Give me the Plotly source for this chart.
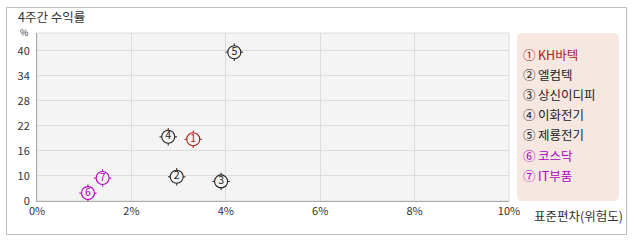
import plotly.graph_objects as go

# ---- data ----
names = ["KH바텍", "엘컴텍", "상신이디피", "이화전기", "제룡전기", "코스닥", "IT부품"]
marks = ["①", "②", "③", "④", "⑤", "⑥", "⑦"]
nums = ["1", "2", "3", "4", "5", "6", "7"]
std_dev = [3.31, 2.96, 3.90, 2.78, 4.18, 1.08, 1.39]      # x, %
returns = [18.8, 9.8, 8.7, 19.4, 39.7, 5.9, 9.5]          # y (axis units)
colors = ["#aa1a1a", "#222222", "#222222", "#222222", "#222222", "#b000c0", "#b000c0"]
x_ticks = [0, 2, 4, 6, 8, 10]
x_tick_text = ["0%", "2%", "4%", "6%", "8%", "10%"]
y_ticks = [4, 10, 16, 22, 28, 34, 40]
y_tick_text = ["0", "10", "16", "22", "28", "34", "40"]

W, H = 638, 242
L, R, T, B = 37, 509, 33, 201
FONT = "Noto Sans CJK KR"

def px(x):
    return (x - L) / (R - L)

def py(y):
    return (B - y) / (B - T)

fig = go.Figure()
# crosshair ticks
fig.add_trace(go.Scatter(
    x=std_dev, y=returns, mode="markers", hoverinfo="skip",
    marker=dict(symbol="cross-thin-open", size=12.5, color=colors,
                line=dict(color=colors, width=1)),
))
# circle
fig.add_trace(go.Scatter(
    x=std_dev, y=returns, mode="markers+text", text=nums,
    textposition="middle center",
    textfont=dict(family=FONT, size=10.5, color=colors),
    marker=dict(symbol="circle", size=13, color="#f4f4f4",
                line=dict(color=colors, width=1.1)),
))

fig.update_layout(
    width=W, height=H,
    margin=dict(l=L, r=W - R, t=T, b=H - B, pad=0),
    paper_bgcolor="white", plot_bgcolor="#f4f4f4",
    showlegend=False,
    font=dict(family=FONT, size=11, color="#333333"),
)
fig.update_xaxes(
    range=[0, 10], tickvals=x_ticks, ticktext=x_tick_text,
    showgrid=True, gridcolor="#dcdcdc", gridwidth=1,
    zeroline=False, showline=True, linecolor="#aaaaaa", linewidth=1,
    mirror=False, ticks="", ticklen=0,
    tickfont=dict(family=FONT, size=11, color="#333333"),
)
fig.update_yaxes(
    range=[4, 44.3], tickvals=y_ticks, ticktext=y_tick_text,
    showgrid=True, gridcolor="#dcdcdc", gridwidth=1,
    zeroline=False, showline=True, linecolor="#aaaaaa", linewidth=1,
    mirror=False, ticks="outside", ticklen=4, tickcolor="white",
    tickfont=dict(family=FONT, size=11, color="#333333"),
)

shapes = []
# plot frame top/right
shapes.append(dict(type="rect", xref="paper", yref="paper", x0=0, x1=1, y0=0, y1=1,
                   line=dict(color="#dcdcdc", width=1), layer="below"))
# outer border
shapes.append(dict(type="rect", xref="paper", yref="paper",
                   x0=px(6.5), x1=px(626.5), y0=py(234.5), y1=py(7.5),
                   line=dict(color="#bdbdbd", width=1)))
# legend box with rounded corners
lx0, lx1, ly0, ly1, r = 517, 619, 33, 201, 6
path = (f"M {px(lx0 + r)},{py(ly0)} L {px(lx1 - r)},{py(ly0)} "
        f"Q {px(lx1)},{py(ly0)} {px(lx1)},{py(ly0 + r)} "
        f"L {px(lx1)},{py(ly1 - r)} Q {px(lx1)},{py(ly1)} {px(lx1 - r)},{py(ly1)} "
        f"L {px(lx0 + r)},{py(ly1)} Q {px(lx0)},{py(ly1)} {px(lx0)},{py(ly1 - r)} "
        f"L {px(lx0)},{py(ly0 + r)} Q {px(lx0)},{py(ly0)} {px(lx0 + r)},{py(ly0)} Z")
shapes.append(dict(type="path", xref="paper", yref="paper", path=path,
                   fillcolor="#f6e8e1", line=dict(width=0)))
fig.update_layout(shapes=shapes)

ann = []
ann.append(dict(text="4주간 수익률", xref="paper", yref="paper", x=px(16), y=py(17),
                xanchor="left", yanchor="middle", showarrow=False,
                font=dict(family=FONT, size=12.5, color="#333333")))
ann.append(dict(text="%", xref="paper", yref="paper", x=px(24), y=py(32),
                xanchor="center", yanchor="middle", showarrow=False,
                font=dict(family=FONT, size=9, color="#333333")))
ann.append(dict(text="표준편차(위험도)", xref="paper", yref="paper", x=px(532), y=py(216),
                xanchor="left", yanchor="middle", showarrow=False,
                font=dict(family=FONT, size=12.5, color="#333333")))
for i, (m, n, c) in enumerate(zip(marks, names, colors)):
    ann.append(dict(text=m + "\u2009" + n, xref="paper", yref="paper", x=px(521), y=py(54 + i * 20.2),
                    xanchor="left", yanchor="middle", showarrow=False,
                    font=dict(family=FONT, size=12.5, color=c)))
fig.update_layout(annotations=ann)

fig.write_html("out.html")
